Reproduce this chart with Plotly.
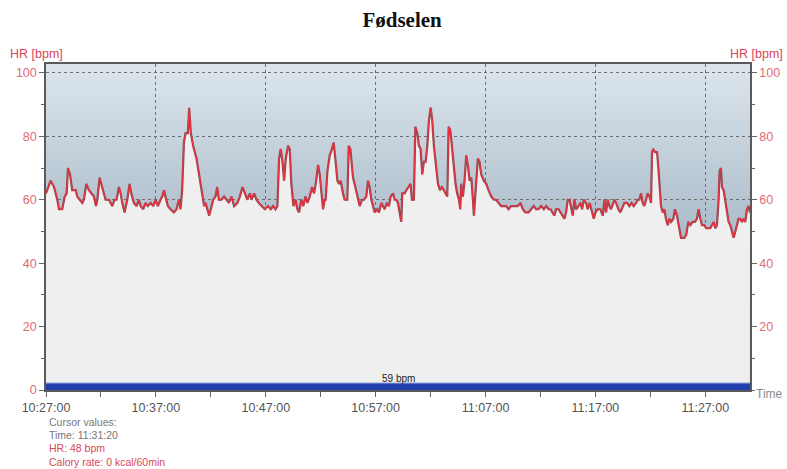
import plotly.graph_objects as go
import pandas as pd

# ---------------- data ----------------
START = "2000-01-01 10:27:00"
END = "2000-01-01 11:31:04"

# minutes after 10:27:00
minutes = [
    0.00, 0.12, 0.42, 0.73, 1.03, 1.18, 1.48, 1.70, 1.88, 2.00, 2.18, 2.39, 2.70, 2.85, 3.09, 3.30, 3.45, 3.67,
    3.91, 4.12, 4.36, 4.55, 4.67, 4.88, 5.03, 5.21, 5.42, 5.73, 6.03, 6.24, 6.42, 6.64, 6.79, 6.94, 7.15, 7.39,
    7.61, 7.76, 8.00, 8.24, 8.45, 8.61, 8.85, 9.06, 9.27, 9.52, 9.76, 9.97, 10.18, 10.42, 10.58, 10.73, 10.88,
    11.09, 11.33, 11.64, 11.88, 12.09, 12.24, 12.39, 12.55, 12.70, 12.91,
    13.03, 13.18, 13.39, 13.70, 14.00, 14.21, 14.39, 14.52, 14.70, 14.85, 15.00, 15.21, 15.42, 15.58, 15.73,
    15.97, 16.21, 16.42, 16.64, 16.88, 17.12, 17.42, 17.64, 17.88, 18.09, 18.33, 18.55, 18.70, 18.94, 19.15,
    19.36, 19.61, 19.91, 20.21, 20.45, 20.67, 20.88, 21.06, 21.21, 21.36, 21.52, 21.67, 21.82, 22.03, 22.18,
    22.33, 22.52, 22.70, 22.88, 23.03, 23.24, 23.42, 23.61, 23.79, 24.00, 24.21, 24.39, 24.55, 24.76, 24.91,
    25.06, 25.21,
    25.36, 25.45, 25.61, 25.82, 26.03, 26.18, 26.33, 26.52, 26.67, 26.82, 27.03, 27.18, 27.42, 27.55, 27.70,
    27.94, 28.15, 28.39, 28.55, 28.76, 28.94, 29.15, 29.30, 29.45, 29.61, 29.76, 29.91, 30.15, 30.30, 30.52,
    30.67, 30.82, 31.03, 31.21, 31.36, 31.58, 31.73, 31.88, 32.03, 32.18, 32.33, 32.42, 32.64, 32.79, 33.00,
    33.18, 33.30, 33.48, 33.61, 33.79, 33.94, 34.09, 34.24, 34.39, 34.55, 34.70, 34.85, 35.00, 35.15, 35.30,
    35.52, 35.67, 35.85, 36.03, 36.21, 36.36, 36.52, 36.64, 36.79, 36.94, 37.12, 37.27, 37.42, 37.58, 37.70,
    37.79, 37.94,
    38.09, 38.24, 38.39, 38.55, 38.70, 38.85, 38.94, 39.06, 39.18, 39.30, 39.45, 39.61, 39.85, 40.06, 40.27,
    40.52, 40.76, 40.97, 41.18, 41.42, 41.67, 41.88, 42.09, 42.33, 42.64, 42.94, 43.18, 43.39, 43.61, 43.91,
    44.15, 44.39, 44.61, 44.82, 45.06, 45.30, 45.52, 45.73, 45.91, 46.12, 46.27, 46.42, 46.64, 46.82, 47.03,
    47.18, 47.33, 47.48, 47.64, 47.79, 47.94, 48.09, 48.24, 48.45, 48.64, 48.79, 48.94, 49.15, 49.30, 49.48,
    49.67, 49.85, 50.00, 50.21, 50.45, 50.67,
    50.82, 50.97, 51.12, 51.27, 51.42, 51.58, 51.73, 51.88, 52.09, 52.27, 52.48, 52.64, 52.88, 53.09, 53.30,
    53.48, 53.70, 53.85, 54.00, 54.15, 54.30, 54.45, 54.61, 54.76, 54.91, 55.06, 55.15, 55.27, 55.42, 55.61,
    55.73, 55.85, 55.97, 56.12, 56.27, 56.42, 56.58, 56.73, 56.88, 57.09, 57.24, 57.42, 57.61, 57.79, 58.09,
    58.27, 58.45, 58.64, 58.85, 59.06, 59.24, 59.39, 59.55, 59.70, 59.91, 60.09, 60.27, 60.45, 60.61, 60.76,
    60.91, 61.06, 61.21, 61.30, 61.42, 61.52, 61.67, 61.82, 61.97, 62.12, 62.27, 62.42, 62.58, 62.73, 62.88,
    63.03, 63.18, 63.33, 63.48, 63.64, 63.79, 63.94, 64.06,
]

hr_bpm = [
    62, 63, 66, 64, 60, 57, 57, 61, 62, 70, 68, 63, 63, 61, 60, 59, 60, 65,
    63, 62, 61, 58, 60, 67, 65, 62, 60, 60, 58, 60, 60, 64, 62, 59, 56, 60,
    65, 62, 59, 58, 60, 58, 57, 59, 58, 59, 58, 60, 58, 60, 61, 63, 61,
    58, 57, 56, 57, 60, 57, 63, 78, 81, 81,
    89, 81, 77, 73, 66, 61, 58, 59, 57, 55, 57, 60, 61, 64, 60,
    60, 61, 60, 59, 61, 58, 59, 61, 64, 62, 60, 62, 60, 62, 60,
    59, 58, 57, 58, 57, 58, 57, 58, 73, 76, 72, 66, 73, 77, 76,
    65, 58, 60, 57, 56, 60, 58, 61, 59, 61, 64, 62, 65, 71, 68,
    61, 57,
    60, 60, 69, 74, 76, 78, 73, 66, 65, 66, 62, 60, 60, 77, 76,
    67, 64, 60, 58, 60, 60, 61, 66, 64, 60, 58, 56, 57, 56, 59,
    58, 57, 59, 58, 61, 62, 60, 60, 59, 56, 53, 62, 62, 63, 64,
    65, 60, 60, 83, 81, 77, 76, 68, 72, 72, 77, 85, 89, 85, 77,
    70, 65, 63, 64, 63, 62, 61, 83, 82, 77, 70, 65, 62, 60, 57,
    65, 61,
    66, 74, 71, 66, 67, 60, 55, 61, 67, 73, 72, 68, 66, 65, 63,
    61, 60, 60, 59, 58, 58, 58, 57, 58, 58, 58, 59, 57, 56, 56,
    57, 58, 57, 57, 58, 57, 58, 57, 57, 56, 55, 57, 57, 56, 55,
    54, 56, 60, 60, 57, 55, 60, 57, 58, 59, 57, 60, 59, 57, 59,
    56, 54, 56, 57, 57, 55,
    60, 56, 60, 58, 57, 59, 60, 59, 57, 56, 58, 59, 59, 58, 59,
    58, 59, 60, 60, 62, 59, 58, 60, 62, 61, 59, 75, 76, 75, 75,
    70, 64, 58, 56, 57, 54, 52, 54, 53, 54, 57, 55, 51, 48, 48,
    49, 53, 52, 53, 53, 54, 57, 54, 52, 52, 51, 51, 51, 52, 53,
    51, 52, 60, 69, 70, 64, 63, 60, 57, 53, 52, 50, 48, 50, 52,
    54, 54, 53, 54, 53, 57, 58, 56,
]

y_ticks_left = [0, 20, 40, 60, 80, 100]
y_ticks_right = [20, 40, 60, 80, 100]
average_label = "59 bpm"
cursor_lines = ["Cursor values:", "Time: 11:31:20", "HR: 48 bpm", "Calory rate: 0 kcal/60min"]
title_text = "Fødselen"

# ---------------- figure ----------------
times = pd.Timestamp(START) + pd.to_timedelta(minutes, unit="m")

RED = "#dc4658"
TICKRED = "#e06a78"
GRAY_TXT = "#555555"
Y_TOP = 102.8
M_L, M_R, M_T, M_B = 46, 37, 64, 79
PLOT_H = 469 - M_T - M_B
PLOT_W = 787 - M_L - M_R


def py(pixel_y):
    """page pixel row -> paper fraction"""
    return (469 - M_B - pixel_y) / PLOT_H


def px(pixel_x):
    return (pixel_x - M_L) / PLOT_W


fig = go.Figure()

fig.add_trace(go.Scatter(
    x=times, y=hr_bpm, mode="lines", fill="tozeroy",
    fillcolor="#efefef", line=dict(color="#8c4a52", width=2.2),
    hoverinfo="skip", showlegend=False,
))
fig.add_trace(go.Scatter(
    x=times, y=hr_bpm, mode="lines",
    line=dict(color="#f0303e", width=1.1), showlegend=False,
))
fig.add_trace(go.Scatter(x=[times[0]], y=[0], yaxis="y2", mode="markers",
                         marker=dict(opacity=0), showlegend=False, hoverinfo="skip"))

# gradient plot background: nested bands (no seams)
shapes = []
n = 80
top_c = (220, 229, 236)
bot_c = (126, 150, 170)
for i in range(n):
    y1 = Y_TOP * (n - i) / n
    f = i / (n - 1)
    c = tuple(int(round(top_c[k] + (bot_c[k] - top_c[k]) * f)) for k in range(3))
    shapes.append(dict(type="rect", xref="paper", yref="y", x0=0, x1=1, y0=0, y1=y1,
                       fillcolor="rgb(%d,%d,%d)" % c, line=dict(width=0), layer="below"))
# average bar at the bottom
shapes.append(dict(type="rect", xref="paper", yref="y", x0=0, x1=1, y0=0, y1=2.2,
                   fillcolor="#2141b0", line=dict(width=0), layer="above"))
shapes.append(dict(type="line", xref="paper", yref="y", x0=0, x1=1, y0=2.2, y1=2.2,
                   line=dict(color="#8ea3dc", width=1), layer="above"))

annotations = [
    dict(text="HR [bpm]", xref="paper", yref="paper", x=px(8), y=py(54), xanchor="left",
         yanchor="middle", showarrow=False, font=dict(color=RED, size=12.5)),
    dict(text="HR [bpm]", xref="paper", yref="paper", x=px(785), y=py(54), xanchor="right",
         yanchor="middle", showarrow=False, font=dict(color=RED, size=12.5)),
    dict(text="Time", xref="paper", yref="paper", x=px(785), y=py(394), xanchor="right",
         yanchor="middle", showarrow=False, font=dict(color="#8a8a8a", size=12)),
    dict(text=average_label, xref="paper", yref="paper", x=0.5, y=py(378), xanchor="center",
         yanchor="middle", showarrow=False, font=dict(color="#222222", size=10)),
]
cursor_colors = ["#777777", "#777777", RED, RED]
for i, (t, c) in enumerate(zip(cursor_lines, cursor_colors)):
    annotations.append(dict(text=t, xref="paper", yref="paper", x=px(47), y=py(422 + i * 13.2),
                            xanchor="left", yanchor="middle", showarrow=False,
                            font=dict(color=c, size=10.5)))

axis_common = dict(
    range=[0, Y_TOP],
    ticks="outside", ticklen=5, tickcolor="#666666",
    tickfont=dict(color=TICKRED, size=12.5),
    minor=dict(tickmode="linear", tick0=0, dtick=10, ticks="outside", ticklen=3, tickcolor="#666666"),
    showline=True, linecolor="#5a5a5a", linewidth=1.5, zeroline=False, fixedrange=True,
)

fig.update_layout(
    width=787, height=469,
    margin=dict(l=M_L, r=M_R, t=M_T, b=M_B, autoexpand=False),
    paper_bgcolor="white", plot_bgcolor="#efefef",
    font=dict(family="Liberation Sans, Arial, sans-serif", color=GRAY_TXT),
    title=dict(text="<b>%s</b>" % title_text, x=0.5058, xref="paper", xanchor="center",
               y=1 - 20 / 469, yref="container", yanchor="middle",
               font=dict(family="Liberation Serif, Times New Roman, serif", size=21, color="#111111")),
    xaxis=dict(
        type="date", range=[START, END],
        tickmode="linear", tick0=START, dtick=600000, tickformat="%H:%M:%S",
        ticks="outside", ticklen=5, tickcolor="#666666",
        tickfont=dict(color=GRAY_TXT, size=12.5),
        minor=dict(tickmode="linear", tick0=START, dtick=300000, ticks="outside", ticklen=5,
                   tickcolor="#666666"),
        showgrid=True, gridcolor="#6e6e6e", griddash="dot", gridwidth=1,
        showline=True, linecolor="#5a5a5a", linewidth=1.5, mirror=True, fixedrange=True,
    ),
    yaxis=dict(**axis_common, tickmode="array", tickvals=y_ticks_left,
               showgrid=True, gridcolor="#6e6e6e", griddash="dot", gridwidth=1),
    yaxis2=dict(**axis_common, tickmode="array", tickvals=y_ticks_right,
                overlaying="y", side="right", showgrid=False),
    shapes=shapes, annotations=annotations, showlegend=False,
    hovermode=False,
)

fig.write_html("out.html", config={"displayModeBar": False},
               post_script="document.body.style.margin='0px';document.body.style.overflow='hidden';")
